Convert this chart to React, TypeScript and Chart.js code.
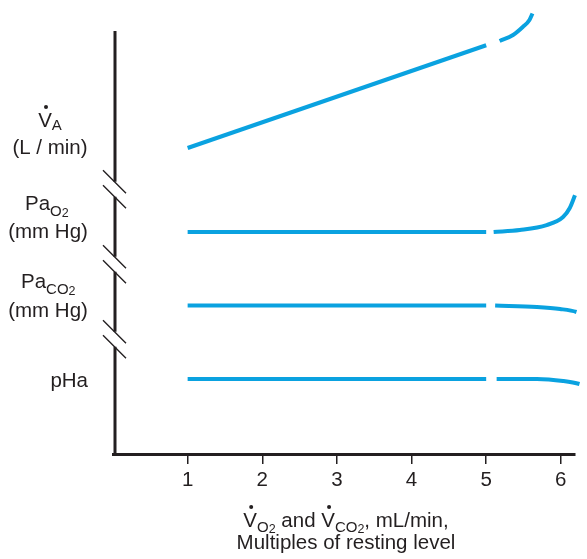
import React, { useEffect, useRef } from 'react';
import { Chart, registerables } from 'chart.js';

Chart.register(...registerables);

// ---- data (x: multiples of resting VO2, y: schematic plotting units) ----
const xTicks = [1, 2, 3, 4, 5, 6];
const vaRest: [number, number][] = [[1, 40.8], [5, 54.5]];
const vaRise: [number, number][] = [[5.18, 55.07], [5.36, 55.87], [5.49, 56.93], [5.58, 57.87], [5.62, 58.73]];
const pao2Rest: [number, number][] = [[1, 29.6], [5, 29.6]];
const pao2Rise: [number, number][] = [[5.1, 29.6], [5.45, 29.87], [5.81, 30.53], [6.03, 31.6], [6.12, 32.8], [6.19, 34.5]];
const paco2Rest: [number, number][] = [[1, 19.8], [5, 19.8]];
const paco2Fall: [number, number][] = [[5.12, 19.8], [5.68, 19.6], [5.99, 19.33], [6.21, 18.93], [6.35, 18.27]];
const phaRest: [number, number][] = [[1, 10], [5, 10]];
const phaFall: [number, number][] = [[5.14, 10], [5.68, 10], [6.03, 9.73], [6.25, 9.33], [6.35, 8.93]];
const axisBreaks = [35.3, 25.3, 15.3];
const yAxisTop = 56.4;

const FONT = "'Liberation Sans', Arial, Helvetica, sans-serif";
const INK = '#231f20';
const CYAN = '#0aa2e0';

type Run = { t: string; s: number; dy?: number; dot?: boolean };

function runsWidth(ctx: CanvasRenderingContext2D, runs: Run[]) {
  let w = 0;
  for (const r of runs) {
    ctx.font = `${r.s}px ${FONT}`;
    w += ctx.measureText(r.t).width;
  }
  return w;
}

function drawRuns(ctx: CanvasRenderingContext2D, runs: Run[], x: number, base: number, align: 'left' | 'center' | 'right') {
  const w = runsWidth(ctx, runs);
  let cx = align === 'center' ? x - w / 2 : align === 'right' ? x - w : x;
  ctx.textAlign = 'left';
  ctx.textBaseline = 'alphabetic';
  ctx.fillStyle = INK;
  for (const r of runs) {
    ctx.font = `${r.s}px ${FONT}`;
    ctx.fillText(r.t, cx, base + (r.dy || 0));
    const rw = ctx.measureText(r.t).width;
    if (r.dot) {
      ctx.beginPath();
      ctx.arc(cx + rw / 2 + 1, base - r.s * 0.98, 2, 0, Math.PI * 2);
      ctx.fill();
    }
    cx += rw;
  }
}

const M = 20.5;
const SUB = 15;
const SUB2 = 12.5;

const decorPlugin = {
  id: 'decor',
  afterDraw(chart: any) {
    const ctx: CanvasRenderingContext2D = chart.ctx;
    const xS = chart.scales.x;
    const yS = chart.scales.y;
    const py = (v: number) => yS.getPixelForValue(v);
    const ax = xS.left + 2;
    const bottom = chart.chartArea.bottom;
    ctx.save();
    // y axis with breaks
    ctx.strokeStyle = INK;
    ctx.lineCap = 'butt';
    ctx.lineWidth = 3;
    const cuts = axisBreaks.map(py).sort((a, b) => a - b);
    let start = py(yAxisTop);
    ctx.beginPath();
    for (const c of cuts) {
      ctx.moveTo(ax, start);
      ctx.lineTo(ax, c - 7.5);
      start = c + 7.5;
    }
    ctx.moveTo(ax, start);
    ctx.lineTo(ax, bottom + 1.5);
    ctx.stroke();
    ctx.lineWidth = 1.4;
    ctx.beginPath();
    for (const c of cuts) {
      for (const d of [-7.5, 7.5]) {
        ctx.moveTo(ax - 12, c + d - 11.5);
        ctx.lineTo(ax + 11, c + d + 11.5);
      }
    }
    ctx.stroke();

    // left labels
    drawRuns(ctx, [{ t: 'V', s: M, dot: true }, { t: 'A', s: SUB, dy: 2.5 }], 50, py(43.6), 'center');
    drawRuns(ctx, [{ t: '(L / min)', s: M }], 50, py(40.0), 'center');
    drawRuns(ctx, [{ t: 'Pa', s: M }, { t: 'O', s: SUB, dy: 5.5 }, { t: '2', s: SUB2, dy: 7 }], 25, py(32.53), 'left');
    drawRuns(ctx, [{ t: '(mm Hg)', s: M }], 48, py(28.8), 'center');
    drawRuns(ctx, [{ t: 'Pa', s: M }, { t: 'CO', s: SUB, dy: 5.5 }, { t: '2', s: SUB2, dy: 7 }], 21, py(22.13), 'left');
    drawRuns(ctx, [{ t: '(mm Hg)', s: M }], 48, py(18.27), 'center');
    drawRuns(ctx, [{ t: 'pHa', s: M }], 88, py(8.93), 'right');

    // x axis title
    const tx = (chart.chartArea.left + chart.chartArea.right) / 2 + 2;
    drawRuns(
      ctx,
      [
        { t: 'V', s: M, dot: true },
        { t: 'O', s: SUB, dy: 4.5 },
        { t: '2', s: SUB2, dy: 6 },
        { t: ' and ', s: M },
        { t: 'V', s: M, dot: true },
        { t: 'CO', s: SUB, dy: 4.5 },
        { t: '2', s: SUB2, dy: 6 },
        { t: ', mL/min,', s: M },
      ],
      tx,
      527,
      'center'
    );
    drawRuns(ctx, [{ t: 'Multiples of resting level', s: M }], tx, 549, 'center');
    ctx.restore();
  },
};

function seg(points: [number, number][], curved: boolean) {
  return {
    data: points.map(([x, y]) => ({ x, y })),
    borderColor: CYAN,
    backgroundColor: CYAN,
    borderWidth: 4,
    pointRadius: 0,
    fill: false,
    clip: false as any,
    borderCapStyle: 'butt' as const,
    tension: 0,
    cubicInterpolationMode: curved ? ('monotone' as const) : ('default' as const),
  };
}

export default function App() {
  const ref = useRef<HTMLCanvasElement | null>(null);
  useEffect(() => {
    if (!ref.current) return;
    const chart = new Chart(ref.current, {
      type: 'line',
      data: {
        datasets: [
          seg(vaRest, false),
          seg(vaRise, true),
          seg(pao2Rest, false),
          seg(pao2Rise, true),
          seg(paco2Rest, false),
          seg(paco2Fall, true),
          seg(phaRest, false),
          seg(phaFall, true),
        ] as any,
      },
      options: {
        animation: false,
        responsive: false,
        devicePixelRatio: 1,
        events: [],
        layout: { padding: { left: 113, right: 12, top: 4, bottom: 0 } },
        plugins: { legend: { display: false }, tooltip: { enabled: false } },
        scales: {
          x: {
            type: 'linear',
            min: 0,
            max: 6.19,
            afterBuildTicks: (s: any) => {
              s.ticks = xTicks.map((v) => ({ value: v }));
            },
            afterFit: (s: any) => {
              s.height = 105;
            },
            grid: { drawOnChartArea: false, drawTicks: true, tickLength: 10, color: INK, lineWidth: 1.5 },
            border: { display: true, color: INK, width: 3 },
            ticks: { color: INK, font: { family: FONT, size: M }, padding: 4, maxRotation: 0, autoSkip: false },
          },
          y: { type: 'linear', min: 0, max: 60, display: false },
        },
      } as any,
      plugins: [decorPlugin],
    });
    return () => chart.destroy();
  }, []);
  return (
    <div style={{ position: 'fixed', left: 0, top: 0, width: 587, height: 559, background: '#fff' }}>
      <canvas ref={ref} width={587} height={559} style={{ width: 587, height: 559, display: 'block' }} />
    </div>
  );
}
